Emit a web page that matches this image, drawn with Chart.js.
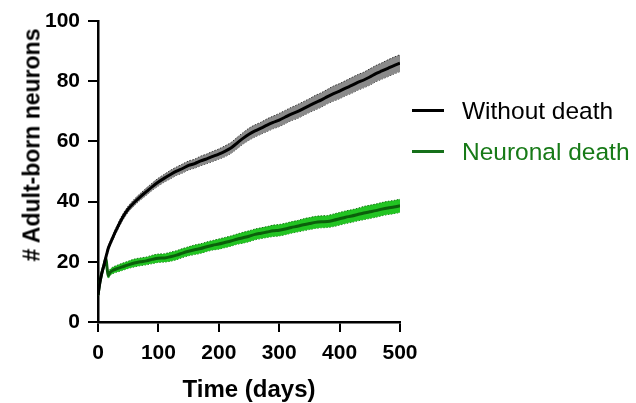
<!DOCTYPE html>
<html lang="en">
<head>
    <meta charset="UTF-8">
    <title>Adult-born neurons</title>
    <script src="https://cdn.jsdelivr.net/npm/chart.js"></script>
    <style>
        body { margin: 0; background: #fff; }
        #wrap { position: relative; width: 636px; height: 403px; font-family: "Liberation Sans", Arial, sans-serif; }
        #yTitle {
            position: absolute; left: 32px; top: 145px;
            transform: translate(-50%, -50%) rotate(-90deg);
            font-weight: bold; font-size: 23px; white-space: nowrap; color: #000;
        }
        .legLine { position: absolute; left: 412px; width: 32px; height: 3px; }
        .legText { position: absolute; left: 462px; font-size: 24.5px; line-height: 1; transform: translateY(-50%); white-space: nowrap; }
    </style>
</head>
<body>
<div id="wrap">
    <canvas id="chart" width="636" height="403"></canvas>
    <div id="yTitle"># Adult-born neurons</div>
    <div class="legLine" style="top:109px;background:#000"></div>
    <div class="legText" style="top:111px;color:#000">Without death</div>
    <div class="legLine" style="top:150px;background:#16701a"></div>
    <div class="legText" style="top:152px;color:#177a17">Neuronal death</div>
</div>
<script>
    const days = [0, 3, 6, 10, 13, 15, 17, 20, 25, 30, 40, 50, 60, 70, 80, 90, 100, 110, 120, 130, 140, 150,
        160, 170, 180, 190, 200, 210, 220, 230, 240, 250, 260, 270, 280, 290, 300, 310, 320, 330, 340, 350,
        360, 370, 380, 390, 400, 410, 420, 430, 440, 450, 460, 470, 480, 490, 500];

    const withoutDeath = [9, 13, 16, 19, 21.5, 23, 24.5, 26, 28.3, 30.5, 34.5, 37.5, 39.7, 41.6, 43.3, 45, 46.5, 47.8, 49, 50.1,
        51, 52, 52.6, 53.5, 54.2, 55, 55.8, 56.7, 57.8, 59.4, 61, 62.4, 63.5, 64.4, 65.4, 66.3, 67.1, 68.1, 69.1, 69.9,
        70.9, 71.9, 72.9, 73.8, 74.9, 75.9, 76.7, 77.7, 78.6, 79.6, 80.4, 81.4, 82.5, 83.4, 84.3, 85.2, 86];
    const withoutDeathSem = [0.2, 0.4, 0.5, 0.6, 0.7, 0.7, 0.7, 0.8, 0.8, 0.9, 1.0, 1.0, 1.1, 1.1, 1.2, 1.2, 1.3, 1.3, 1.4, 1.4,
        1.5, 1.5, 1.5, 1.6, 1.6, 1.7, 1.7, 1.8, 1.8, 1.9, 1.9, 2.0, 2.0, 2.0, 2.1, 2.1, 2.2, 2.2, 2.2, 2.3,
        2.3, 2.3, 2.4, 2.4, 2.4, 2.5, 2.5, 2.5, 2.6, 2.6, 2.6, 2.7, 2.7, 2.7, 2.8, 2.8, 2.8];

    const neuronalDeath = [9, 13, 16, 19, 21, 18, 15.5, 16.5, 17.2, 17.6, 18.3, 19, 19.6, 20, 20.3, 20.8, 21.2, 21.3, 21.7, 22.2,
        22.9, 23.5, 24, 24.4, 25, 25.5, 25.9, 26.4, 26.9, 27.5, 28, 28.5, 29.1, 29.5, 29.9, 30.3, 30.5, 30.9, 31.4, 31.8,
        32.3, 32.7, 33.1, 33.3, 33.4, 33.8, 34.3, 34.8, 35.2, 35.7, 36.2, 36.6, 37, 37.5, 37.9, 38.2, 38.6];
    const neuronalDeathSem = [0.2, 0.4, 0.5, 0.6, 0.7, 0.9, 1.0, 1.0, 1.1, 1.1, 1.2, 1.2, 1.3, 1.3, 1.3, 1.4, 1.4, 1.4, 1.5, 1.5,
        1.5, 1.5, 1.6, 1.6, 1.6, 1.6, 1.7, 1.7, 1.7, 1.7, 1.8, 1.8, 1.8, 1.8, 1.8, 1.9, 1.9, 1.9, 1.9, 1.9,
        2.0, 2.0, 2.0, 2.0, 2.0, 2.1, 2.1, 2.1, 2.1, 2.1, 2.2, 2.2, 2.2, 2.2, 2.2, 2.2, 2.2];

    const xTicks = [0, 100, 200, 300, 400, 500];
    const yTicks = [0, 20, 40, 60, 80, 100];

    function pts(vals, sem, sign) {
        return days.map((d, i) => ({ x: d, y: vals[i] + sign * sem[i] }));
    }

    function band(vals, sem, fillColor, edgeColor) {
        const edge = { borderColor: edgeColor, borderWidth: 1, borderDash: [1.5, 1.5], pointRadius: 0, tension: 0.3, order: 2 };
        return [
            Object.assign({ data: pts(vals, sem, 1), fill: '+1', backgroundColor: fillColor }, edge),
            Object.assign({ data: pts(vals, sem, -1), fill: false }, edge)
        ];
    }

    const tickFont = { family: 'Liberation Sans, Arial', size: 21, weight: 'bold' };

    new Chart(document.getElementById('chart'), {
        type: 'line',
        data: {
            datasets: [
                ...band(withoutDeath, withoutDeathSem, '#8a8a8a', '#333'),
                ...band(neuronalDeath, neuronalDeathSem, '#22c422', '#117a11'),
                { data: pts(neuronalDeath, neuronalDeathSem, 0), borderColor: '#0b5f0b', borderWidth: 3, pointRadius: 0, tension: 0.3, fill: false, order: 1 },
                { data: pts(withoutDeath, withoutDeathSem, 0), borderColor: '#000', borderWidth: 3, pointRadius: 0, tension: 0.3, fill: false, order: 0 }
            ]
        },
        options: {
            responsive: false,
            animation: false,
            layout: { padding: { top: 21, right: 236, bottom: 0, left: 0 } },
            plugins: { legend: { display: false }, tooltip: { enabled: false } },
            scales: {
                x: {
                    type: 'linear', min: 0, max: 500,
                    afterFit: s => { s.height = 81; },
                    afterBuildTicks: s => { s.ticks = xTicks.map(v => ({ value: v })); },
                    grid: { drawOnChartArea: false, drawTicks: true, tickLength: 10, color: '#000', lineWidth: 2 },
                    border: { color: '#000', width: 2.5 },
                    ticks: { color: '#000', font: tickFont, padding: 9, maxRotation: 0 },
                    title: { display: true, text: 'Time (days)', color: '#000', font: { family: 'Liberation Sans, Arial', size: 24, weight: 'bold' }, padding: { top: 0, bottom: -2 } }
                },
                y: {
                    min: 0, max: 100,
                    afterFit: s => { s.width = 98; },
                    afterBuildTicks: s => { s.ticks = yTicks.map(v => ({ value: v })); },
                    grid: { drawOnChartArea: false, drawTicks: true, tickLength: 10, color: '#000', lineWidth: 2 },
                    border: { color: '#000', width: 2.5 },
                    ticks: { color: '#000', font: tickFont, padding: 8 }
                }
            }
        }
    });
</script>
</body>
</html>
